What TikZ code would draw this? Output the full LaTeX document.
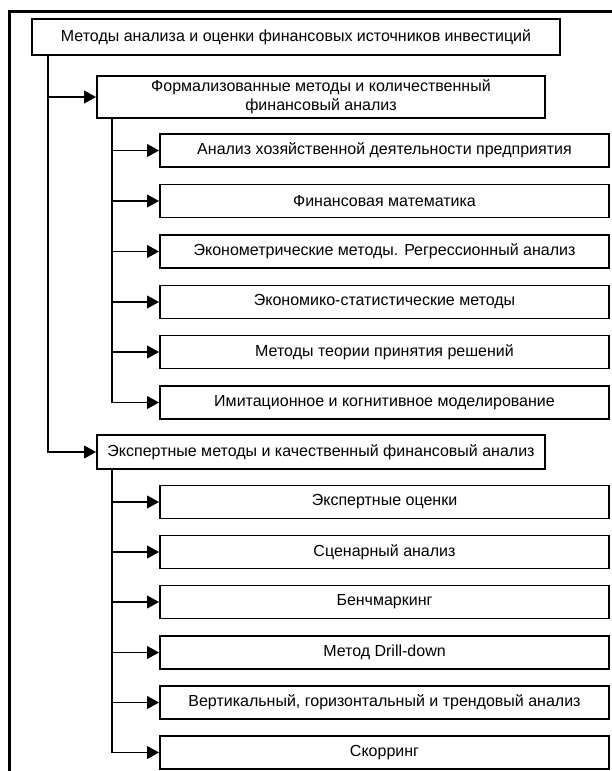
\documentclass[tikz,border=0pt]{standalone}
\usepackage{fontspec}
\setmainfont{Liberation Sans}
\usetikzlibrary{arrows.meta}
\begin{document}
\begin{tikzpicture}[x=0.75pt,y=-0.75pt,
  box/.style={draw,line width=1.4pt,inner sep=0pt,align=center,
    font=\fontsize{12pt}{14pt}\selectfont},
  topbox/.style={box,minimum width=396pt,minimum height=27pt},
  secbox/.style={box,minimum width=336pt,minimum height=25.5pt},
  leafbox/.style={box,minimum width=336.75pt,minimum height=24.75pt},
  conn/.style={line width=1.4pt,-{Triangle[length=9pt,width=9.5pt]}}]
\useasboundingbox (0,0) rectangle (611,771);
\draw[line width=2.4pt] (9.5,790) -- (9.5,11.5) -- (630,11.5);
\node[topbox] (top) at (296,37) {Методы анализа и оценки финансовых источников инвестиций};
\node[secbox,minimum height=31.5pt] (f) at (321,97) {Формализованные методы и количественный\\финансовый анализ};
\node[secbox] (e) at (321,452) {Экспертные методы и качественный финансовый анализ};
\node[leafbox] (f1) at (384.5,150.5) {Анализ хозяйственной деятельности предприятия};
\node[leafbox] (f2) at (384.5,201) {Финансовая математика};
\node[leafbox] (f3) at (384.5,251.5) {Эконометрические методы. Регрессионный анализ};
\node[leafbox] (f4) at (384.5,302) {Экономико-статистические методы};
\node[leafbox] (f5) at (384.5,352) {Методы теории принятия решений};
\node[leafbox] (f6) at (384.5,402.5) {Имитационное и когнитивное моделирование};
\node[leafbox] (e1) at (384.5,502) {Экспертные оценки};
\node[leafbox] (e2) at (384.5,552) {Сценарный анализ};
\node[leafbox] (e3) at (384.5,602) {Бенчмаркинг};
\node[leafbox] (e4) at (384.5,652.5) {Метод Drill-down};
\node[leafbox] (e5) at (384.5,702.5) {Вертикальный, горизонтальный и трендовый анализ};
\node[leafbox] (e6) at (384.5,752.5) {Скорринг};
\coordinate (s0) at (top.south -| 48,0);
\coordinate (s1) at (f.south -| 112,0);
\coordinate (s2) at (e.south -| 112,0);
\foreach \t in {f,e} \draw[conn] (s0) |- (\t.west);
\foreach \t in {f1,f2,f3,f4,f5,f6} \draw[conn] (s1) |- (\t.west);
\foreach \t in {e1,e2,e3,e4,e5,e6} \draw[conn] (s2) |- (\t.west);
\end{tikzpicture}
\end{document}
